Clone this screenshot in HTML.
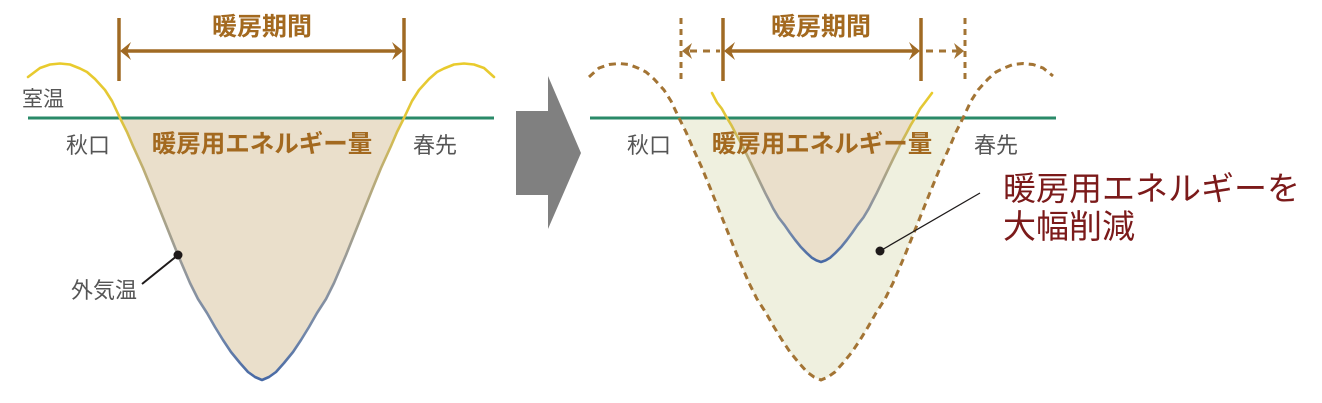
<!DOCTYPE html>
<html><head><meta charset="utf-8"><style>
html,body{margin:0;padding:0;background:#fff;}
svg{display:block;}
text{font-family:"Liberation Sans","Noto Sans CJK JP",sans-serif;}
</style></head><body>
<svg width="1322" height="403" viewBox="0 0 1322 403" xmlns="http://www.w3.org/2000/svg">
<defs>
<linearGradient id="gL" gradientUnits="userSpaceOnUse" x1="0" y1="63" x2="0" y2="380">
<stop offset="0" stop-color="#e9cb2c"/>
<stop offset="0.17" stop-color="#e2c63a"/>
<stop offset="0.34" stop-color="#bcad76"/>
<stop offset="0.62" stop-color="#999a98"/>
<stop offset="0.85" stop-color="#7388aa"/>
<stop offset="1" stop-color="#4769a5"/>
</linearGradient>
<linearGradient id="gR" gradientUnits="userSpaceOnUse" x1="0" y1="93" x2="0" y2="262">
<stop offset="0" stop-color="#e9cb2c"/>
<stop offset="0.17" stop-color="#dcc340"/>
<stop offset="0.35" stop-color="#bcad76"/>
<stop offset="0.6" stop-color="#999a98"/>
<stop offset="0.82" stop-color="#7388aa"/>
<stop offset="1" stop-color="#4769a5"/>
</linearGradient>
</defs>

<!-- LEFT fill -->
<polygon fill="#eadfcb" points="120,118 127,132 133,146 143,168 152,190 160,210 170,235 178,255 184,269 190,283 198,299 207,313 215,327 223,340 231,352 240,363 248,372 255,377 262,380 269,377 276,372 284,363 293,352 301,340 309,327 317,313 326,299 334,283 340,269 346,255 354,235 364,210 372,190 381,168 391,146 397,132 404,118"/>

<!-- RIGHT outer light fill -->
<polygon fill="#eff0df" points="679,118 686,132 692,146 702,168 711,190 719,210 729,235 737,255 743,269 749,283 757,299 766,313 774,327 782,340 790,352 799,363 807,372 814,377 821,380 828,377 835,372 843,363 852,352 860,340 868,327 876,313 885,299 893,283 899,269 905,255 913,235 923,210 931,190 940,168 950,146 956,132 963,118"/>
<!-- RIGHT inner beige fill -->
<polygon fill="#eadfcb" points="727,118 731.6,125.6 735.6,133.3 742.2,145.4 748.2,157.5 753.5,168.5 760.1,182.3 765.4,193.3 769.4,201 773.3,208.7 778.6,217.5 784.6,225.2 789.9,232.9 795.2,240 800.5,246.6 806.4,252.7 811.7,257.6 816.4,260.4 821,262 825.6,260.4 830.3,257.6 835.6,252.7 841.5,246.6 846.8,240 852.1,232.9 857.4,225.2 863.4,217.5 868.7,208.7 872.6,201 876.6,193.3 881.9,182.3 888.5,168.5 893.8,157.5 899.8,145.4 906.4,133.3 910.4,125.6 915,118"/>

<!-- green room temp lines -->
<line x1="28" y1="118" x2="494" y2="118" stroke="#2a8a68" stroke-width="3"/>
<line x1="590" y1="118" x2="1056" y2="118" stroke="#2a8a68" stroke-width="3"/>

<!-- LEFT outside temp curve -->
<polyline fill="none" stroke="url(#gL)" stroke-width="2.6" stroke-linejoin="round" stroke-linecap="round" points="28,77 40,68 50,64.5 60,63.5 70,64.5 80,68.5 87,72 95,79 105,90 112,101 120,118 127,132 133,146 143,168 152,190 160,210 170,235 178,255 184,269 190,283 198,299 207,313 215,327 223,340 231,352 240,363 248,372 255,377 262,380 269,377 276,372 284,363 293,352 301,340 309,327 317,313 326,299 334,283 340,269 346,255 354,235 364,210 372,190 381,168 391,146 397,132 404,118 412,101 419,90 429,79 437,72 444,68.5 454,64.5 464,63.5 474,64.5 484,68 494,77"/>

<!-- RIGHT dashed outer curve -->
<polyline fill="none" stroke="#a37434" stroke-width="3" stroke-dasharray="7,5" stroke-linejoin="round" points="589,77 599,68 609,64.5 619,63.5 629,64.5 639,68.5 646,72 654,79 664,90 671,101 679,118 686,132 692,146 702,168 711,190 719,210 729,235 737,255 743,269 749,283 757,299 766,313 774,327 782,340 790,352 799,363 807,372 814,377 821,380 828,377 835,372 843,363 852,352 860,340 868,327 876,313 885,299 893,283 899,269 905,255 913,235 923,210 931,190 940,168 950,146 956,132 963,118 971,101 978,90 988,79 996,72 1003,68.5 1013,64.5 1023,63.5 1033,64.5 1043,68 1053,76"/>

<!-- RIGHT inner curve -->
<polyline fill="none" stroke="url(#gR)" stroke-width="2.6" stroke-linejoin="round" stroke-linecap="round" points="712,93 717,102.5 721.7,108.5 727,118 731.6,125.6 735.6,133.3 742.2,145.4 748.2,157.5 753.5,168.5 760.1,182.3 765.4,193.3 769.4,201 773.3,208.7 778.6,217.5 784.6,225.2 789.9,232.9 795.2,240 800.5,246.6 806.4,252.7 811.7,257.6 816.4,260.4 821,262 825.6,260.4 830.3,257.6 835.6,252.7 841.5,246.6 846.8,240 852.1,232.9 857.4,225.2 863.4,217.5 868.7,208.7 872.6,201 876.6,193.3 881.9,182.3 888.5,168.5 893.8,157.5 899.8,145.4 906.4,133.3 910.4,125.6 915,118 920.3,108.5 924.9,102.5 932,93"/>

<!-- LEFT heating period bracket -->
<g stroke="#a06a24" stroke-width="3.5" fill="none">
<line x1="119" y1="18" x2="119" y2="81"/>
<line x1="404" y1="18" x2="404" y2="81"/>
<line x1="124" y1="51" x2="399" y2="51"/>
</g>
<g fill="#a06a24">
<polygon points="120,51 131,42 127,51 131,60"/>
<polygon points="403,51 392,42 396,51 392,60"/>
</g>

<!-- RIGHT heating period bracket -->
<g stroke="#a06a24" stroke-width="3.5" fill="none">
<line x1="723" y1="18" x2="723" y2="81"/>
<line x1="921" y1="18" x2="921" y2="81"/>
<line x1="728" y1="51" x2="916" y2="51"/>
</g>
<g fill="#a06a24">
<polygon points="724,51 735,42 731,51 735,60"/>
<polygon points="920,51 909,42 913,51 909,60"/>
</g>
<g stroke="#a37434" stroke-width="3" fill="none" stroke-dasharray="6,5">
<line x1="681" y1="18" x2="681" y2="81"/>
<line x1="965" y1="18" x2="965" y2="81"/>
</g>
<g stroke="#a37434" stroke-width="3" fill="none" stroke-dasharray="7,6">
<line x1="690" y1="51" x2="720" y2="51"/>
<line x1="926" y1="51" x2="957" y2="51"/>
</g>
<g fill="#a37434">
<polygon points="682,51 692,43 689,51 692,59"/>
<polygon points="964,51 954,43 957,51 954,59"/>
</g>

<!-- Gray arrow -->
<polygon fill="#808080" points="516,111 548,111 548,76 581,153 548,229 548,195 516,195"/>

<!-- Leader lines -->
<line x1="142" y1="284" x2="178" y2="255" stroke="#1e1a1a" stroke-width="2"/>
<circle cx="178" cy="255" r="4.5" fill="#1e1a1a"/>
<line x1="980" y1="193" x2="880" y2="251" stroke="#1e1a1a" stroke-width="1.3"/>
<circle cx="880" cy="251" r="4.5" fill="#1e1a1a"/>

<!-- Texts -->
<g font-weight="bold" fill="#a3691f" text-anchor="middle">
<text x="262" y="35" font-size="25">暖房期間</text>
<text x="821" y="35" font-size="25">暖房期間</text>
<text x="262" y="152" font-size="24.5">暖房用エネルギー量</text>
<text x="822" y="152" font-size="24.5">暖房用エネルギー量</text>
</g>
<g fill="#555555" text-anchor="middle">
<text x="43" y="106" font-size="21">室温</text>
<text x="88" y="153" font-size="22">秋口</text>
<text x="435" y="153" font-size="22">春先</text>
<text x="649" y="153" font-size="22">秋口</text>
<text x="996" y="153" font-size="22">春先</text>
<text x="104" y="298" font-size="22">外気温</text>
</g>
<g fill="#7b1a1a" font-size="33">
<text x="1003" y="200">暖房用エネルギーを</text>
<text x="1003" y="238">大幅削減</text>
</g>
</svg>
</body></html>
